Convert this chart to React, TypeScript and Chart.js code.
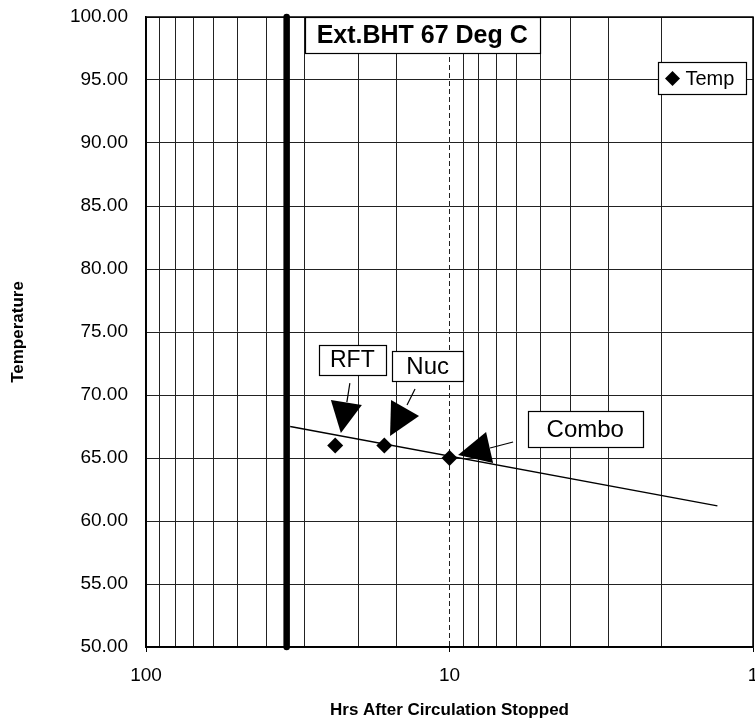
import React, { useEffect, useRef } from 'react';
import { Chart, registerables } from 'chart.js';

Chart.register(...registerables);

// ---- data ----
const xTickLabels = [100, 10, 1];
const tempHours = [23.8, 16.4, 10];
const tempValues = [66, 66, 65];
const trendHours = [33.5, 1.31];
const trendValues = [67.5, 61.2];
const bhtHours = [34.4, 34.4];
const bhtValues = [50, 100];
const seriesName = 'Temp';
const boxLabels = ['Ext.BHT 67 Deg C', 'RFT', 'Nuc', 'Combo'];
const boxHours = [12.3, 20.9, 11.8, 3.57];
const boxTemps = [98.57, 72.78, 72.3, 67.3];
const arrowHours = [22.8, 15.7, 9.37];
const arrowTemps = [66.98, 66.75, 65.24];

const FONT = '"Liberation Sans", Arial, Helvetica, sans-serif';

// ---- annotation styling (pixel sizes) ----
const boxStyles = [
  { w: 235, h: 36, size: 25, bold: true },
  { w: 67, h: 30, size: 23, bold: false },
  { w: 71, h: 30, size: 24, bold: false },
  { w: 115, h: 36, size: 24, bold: false },
];
const arrowShapes = [
  { head: [[-10, -33], [21, -28]], tail: [[9, -50], [6, -31]] },
  { head: [[1, -36], [29, -20]], tail: [[25, -47], [17, -31]] },
  { head: [[28, -23], [35, 8]], tail: [[55, -13], [32, -7]] },
];

const zeroPad = (s: any) => {
  s.paddingLeft = 0;
  s.paddingRight = 0;
  s.paddingTop = 0;
  s.paddingBottom = 0;
  s.getPadding = () => ({ left: 0, top: 0, right: 0, bottom: 0 });
};

const decorPlugin = {
  id: 'decor',
  beforeDatasetsDraw(chart: any) {
    const { ctx, chartArea, scales } = chart;
    const x10 = scales.x.getPixelForValue(10);
    ctx.save();
    ctx.strokeStyle = '#222';
    ctx.lineWidth = 1;
    ctx.setLineDash([5, 3]);
    ctx.beginPath();
    ctx.moveTo(x10, chartArea.top);
    ctx.lineTo(x10, chartArea.bottom);
    ctx.stroke();
    ctx.restore();
  },
  afterDatasetsDraw(chart: any) {
    const { ctx, chartArea, scales } = chart;
    const xs = scales.x;
    const ys = scales.y;
    ctx.save();
    // frame
    ctx.strokeStyle = '#000';
    ctx.lineWidth = 1.5;
    ctx.strokeRect(chartArea.left, chartArea.top, chartArea.right - chartArea.left, chartArea.bottom - chartArea.top);

    // arrows
    ctx.fillStyle = '#000';
    ctx.strokeStyle = '#000';
    ctx.lineWidth = 1.2;
    arrowHours.forEach((h, i) => {
      const tx = xs.getPixelForValue(h);
      const ty = ys.getPixelForValue(arrowTemps[i]);
      const s = arrowShapes[i];
      ctx.beginPath();
      ctx.moveTo(tx, ty);
      ctx.lineTo(tx + s.head[0][0], ty + s.head[0][1]);
      ctx.lineTo(tx + s.head[1][0], ty + s.head[1][1]);
      ctx.closePath();
      ctx.fill();
      ctx.beginPath();
      ctx.moveTo(tx + s.tail[0][0], ty + s.tail[0][1]);
      ctx.lineTo(tx + s.tail[1][0], ty + s.tail[1][1]);
      ctx.stroke();
    });

    // label boxes
    boxLabels.forEach((label, i) => {
      const st = boxStyles[i];
      const cx = xs.getPixelForValue(boxHours[i]);
      const cy = ys.getPixelForValue(boxTemps[i]);
      const x0 = Math.round(cx - st.w / 2) + 0.5;
      const y0 = Math.round(cy - st.h / 2) + 0.5;
      ctx.fillStyle = '#fff';
      ctx.fillRect(x0, y0, st.w, st.h);
      ctx.strokeStyle = '#000';
      ctx.lineWidth = 1.2;
      ctx.strokeRect(x0, y0, st.w, st.h);
      ctx.fillStyle = '#000';
      ctx.font = `${st.bold ? 'bold ' : ''}${st.size}px ${FONT}`;
      ctx.textAlign = 'center';
      ctx.textBaseline = 'middle';
      ctx.fillText(label, cx, cy + 1);
    });

    // legend
    const lw = 88;
    const lh = 32;
    const lx = Math.round(chartArea.right - 7 - lw) + 0.5;
    const ly = Math.round(chartArea.top + 45) + 0.5;
    ctx.fillStyle = '#fff';
    ctx.fillRect(lx, ly, lw, lh);
    ctx.strokeStyle = '#000';
    ctx.lineWidth = 1.2;
    ctx.strokeRect(lx, ly, lw, lh);
    const dx = lx + 14;
    const dy = ly + lh / 2;
    const r = 7.5;
    ctx.fillStyle = '#000';
    ctx.beginPath();
    ctx.moveTo(dx - r, dy);
    ctx.lineTo(dx, dy - r);
    ctx.lineTo(dx + r, dy);
    ctx.lineTo(dx, dy + r);
    ctx.closePath();
    ctx.fill();
    ctx.font = `20px ${FONT}`;
    ctx.textAlign = 'left';
    ctx.textBaseline = 'middle';
    ctx.fillText(seriesName, dx + 13, dy + 1);
    ctx.restore();
  },
};

export default function App() {
  const canvasRef = useRef<HTMLCanvasElement | null>(null);

  useEffect(() => {
    document.body.style.margin = '0';
    const canvas = canvasRef.current;
    if (!canvas) return;
    const isLabelled = (v: number) => xTickLabels.some((t) => Math.abs(t - v) < 1e-6);
    const chart = new Chart(canvas, {
      type: 'scatter',
      data: {
        datasets: [
          {
            label: seriesName,
            data: tempHours.map((h, i) => ({ x: h, y: tempValues[i] })),
            pointStyle: 'rectRot',
            pointRadius: 8,
            pointBackgroundColor: '#000',
            pointBorderWidth: 0,
            showLine: false,
          },
          {
            label: 'trend',
            data: trendHours.map((h, i) => ({ x: h, y: trendValues[i] })),
            showLine: true,
            borderColor: '#000',
            borderWidth: 1.5,
            pointRadius: 0,
          },
          {
            label: 'bht',
            data: bhtHours.map((h, i) => ({ x: h, y: bhtValues[i] })),
            showLine: true,
            borderColor: '#000',
            borderWidth: 6.5,
            borderCapStyle: 'round',
            pointRadius: 0,
            clip: false,
          } as any,
        ],
      },
      options: {
        responsive: false,
        animation: false,
        layout: { autoPadding: false, padding: { top: 17, right: 2, left: 0, bottom: 0 } },
        plugins: {
          legend: { display: false },
          tooltip: { enabled: false },
        },
        scales: {
          x: {
            type: 'logarithmic',
            reverse: true,
            min: 1,
            max: 100,
            ticks: {
              autoSkip: false,
              maxRotation: 0,
              minRotation: 0,
              padding: 12,
              color: '#000',
              font: { size: 19, family: FONT },
              callback: (v: any) => (isLabelled(Number(v)) ? String(Number(v)) : ''),
            },
            grid: {
              color: (c: any) => (c.tick && Math.abs(c.tick.value - 10) < 1e-6 ? 'rgba(0,0,0,0)' : '#222'),
              lineWidth: 1,
              drawTicks: true,
              tickLength: 5,
              tickColor: (c: any) => (c.tick && isLabelled(c.tick.value) ? '#000' : 'rgba(0,0,0,0)'),
            },
            border: { color: '#000', width: 1.5 },
            title: {
              display: true,
              text: 'Hrs After Circulation Stopped',
              color: '#000',
              font: { size: 17, weight: 'bold', family: FONT },
              padding: { top: 0, bottom: 5 },
            },
            afterFit: (s: any) => {
              s.height = 79;
              zeroPad(s);
            },
          },
          y: {
            type: 'linear',
            min: 50,
            max: 100,
            ticks: {
              stepSize: 5,
              padding: 18,
              color: '#000',
              font: { size: 19, family: FONT },
              callback: (v: any) => Number(v).toFixed(2),
            },
            grid: { color: '#222', lineWidth: 1, drawTicks: false },
            border: { color: '#000', width: 1.5 },
            title: {
              display: true,
              text: 'Temperature',
              color: '#000',
              font: { size: 17, weight: 'bold', family: FONT },
              padding: { top: 8, bottom: 0 },
            },
            afterFit: (s: any) => {
              s.width = 146;
              zeroPad(s);
            },
          },
        },
      },
      plugins: [decorPlugin],
    } as any);
    return () => chart.destroy();
  }, []);

  return (
    <div style={{ position: 'absolute', left: 0, top: 0, width: 755, height: 726, background: '#fff' }}>
      <canvas ref={canvasRef} width={755} height={726} style={{ display: 'block' }} />
    </div>
  );
}
